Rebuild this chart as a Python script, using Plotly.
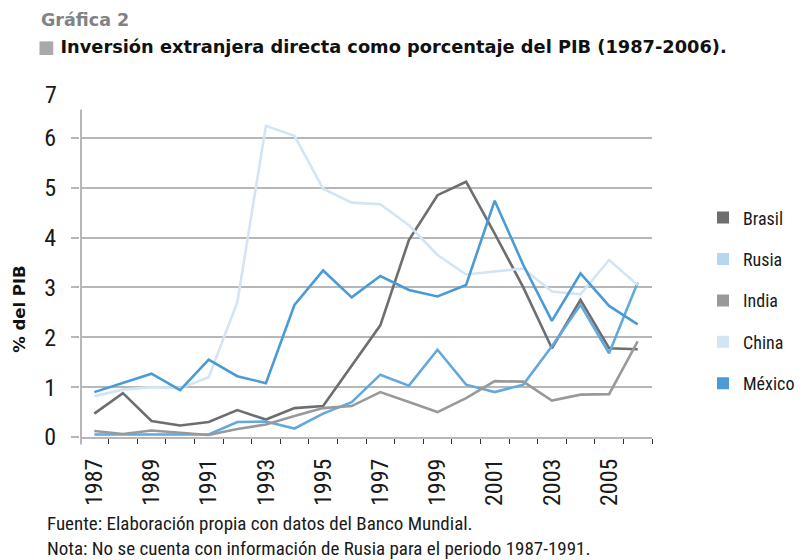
import plotly.graph_objects as go

# ---------------- data ----------------
years = list(range(1987, 2007))
brasil = [0.47, 0.88, 0.32, 0.23, 0.30, 0.54, 0.35, 0.58, 0.62, 1.42,
          2.24, 3.95, 4.85, 5.12, 4.08, 3.00, 1.78, 2.75, 1.78, 1.76]
rusia = [0.05, 0.05, 0.05, 0.05, 0.05, 0.30, 0.31, 0.17, 0.47, 0.70,
         1.25, 1.03, 1.75, 1.05, 0.90, 1.05, 1.82, 2.65, 1.68, 3.10]
india = [0.12, 0.06, 0.13, 0.08, 0.04, 0.16, 0.25, 0.42, 0.58, 0.62,
         0.90, 0.70, 0.50, 0.78, 1.12, 1.11, 0.73, 0.85, 0.86, 1.92]
china = [0.82, 0.95, 1.00, 0.98, 1.20, 2.70, 6.24, 6.04, 4.98, 4.70,
         4.67, 4.25, 3.65, 3.26, 3.32, 3.38, 2.92, 2.86, 3.55, 3.05]
mexico = [0.90, 1.08, 1.27, 0.94, 1.55, 1.22, 1.08, 2.65, 3.34, 2.80,
          3.23, 2.95, 2.82, 3.05, 4.74, 3.45, 2.33, 3.28, 2.63, 2.26]

series_names = ["Brasil", "Rusia", "India", "China", "México"]
series_values = [brasil, rusia, india, china, mexico]
line_colors = ["#6d6e70", "#62a9dd", "#98999b", "#d3e5f4", "#4a9bd5"]
legend_colors = ["#6d6e70", "#b8d7ee", "#98999b", "#d3e5f4", "#4a9bd5"]

x_tick_years = list(range(1987, 2006, 2))
y_tick_values = [0, 1, 2, 3, 4, 5, 6]

title_top = "Gráfica 2"
title_main = "Inversión extranjera directa como porcentaje del PIB (1987-2006)."
y_title = "% del PIB"
note_1 = "Fuente: Elaboración propia con datos del Banco Mundial."
note_2 = "Nota: No se cuenta con información de Rusia para el periodo 1987-1991."

# ---------------- layout geometry ----------------
# The page body has an 8px margin, so the figure is drawn 8px smaller and
# all reference pixel positions are shifted by that offset.
OFF = 8
W, H = 803 - OFF, 560 - OFF
PLOT_L, PLOT_R, PLOT_T, PLOT_B = 80, 652, 87.5, 437.5   # in window pixels
L = PLOT_L - OFF
R = W - (PLOT_R - OFF)
T = PLOT_T - OFF
B = H - (PLOT_B - OFF)
PW, PH = PLOT_R - PLOT_L, PLOT_B - PLOT_T


def px(x):
    return (x - PLOT_L) / PW


def py(y):
    return (PLOT_B - y) / PH


NARROW = "Liberation Sans Narrow, Arial Narrow, Roboto Condensed, sans-serif"
BOLD = "DejaVu Sans, Verdana, sans-serif"
GRID = "#b7b7b9"

fig = go.Figure()

for name, vals, col in zip(series_names, series_values, line_colors):
    fig.add_trace(go.Scatter(x=years, y=vals, mode="lines", name=name,
                             line=dict(color=col, width=2.6),
                             showlegend=False, hoverinfo="x+y+name"))

for name, col in zip(series_names, legend_colors):
    fig.add_trace(go.Scatter(x=[None], y=[None], mode="markers", name=name,
                             marker=dict(symbol="square", size=12, color=col),
                             legendgroup=name, showlegend=True))

fig.update_layout(
    width=W, height=H,
    margin=dict(l=L, r=R, t=T, b=B, autoexpand=False),
    paper_bgcolor="white", plot_bgcolor="white",
    font=dict(family=NARROW, color="#1a1a1a", size=19),
    legend=dict(x=px(703), y=py(300.5), xanchor="left", yanchor="middle",
                font=dict(family=NARROW, size=18, color="#1a1a1a"),
                tracegroupgap=15, itemsizing="trace", bgcolor="rgba(0,0,0,0)",
                borderwidth=0, xref="paper"),
    xaxis=dict(range=[1986.5, 2006.5], tickmode="array", tickvals=x_tick_years,
               ticktext=[str(v) for v in x_tick_years], tickangle=-90,
               ticks="", showgrid=False, zeroline=False,
               showline=True, linecolor=GRID, linewidth=2,
               tickfont=dict(family=NARROW, size=24, color="#1a1a1a"),
               ticklabelstandoff=10,
               minor=dict(tick0=1986.5, dtick=1, ticks="outside", ticklen=5,
                          tickcolor="#333333", tickwidth=1.2, showgrid=False)),
    yaxis=dict(range=[0, 7], tickmode="array", tickvals=y_tick_values,
               showgrid=True, gridcolor=GRID, gridwidth=2, zeroline=False,
               showline=False, ticks="outside", ticklen=8, tickcolor=GRID,
               tickwidth=2, ticklabelstandoff=10,
               tickfont=dict(family=NARROW, size=24, color="#1a1a1a")),
    shapes=[dict(type="line", xref="paper", yref="paper", x0=px(81), x1=px(81),
                 y0=py(445), y1=py(109), line=dict(color=GRID, width=2))],
    annotations=[
        dict(text="<b>" + title_top + "</b>", xref="paper", yref="paper",
             x=px(39), y=py(19), xanchor="left", yanchor="middle", showarrow=False,
             font=dict(family=BOLD, size=17.5, color="#808285")),
        dict(text="<span style='color:#a7a9ac'>■</span> <b>" + title_main + "</b>",
             xref="paper", yref="paper", x=px(36), y=py(46), xanchor="left",
             yanchor="middle", showarrow=False,
             font=dict(family=BOLD, size=17.8, color="#111111")),
        dict(text="<b>" + y_title + "</b>", xref="paper", yref="paper",
             x=px(20), y=py(309), xanchor="center", yanchor="middle",
             textangle=-90, showarrow=False,
             font=dict(family=BOLD, size=16.5, color="#111111")),
        dict(text="7", xref="paper", yref="y", x=px(59), y=6.86,
             xanchor="right", yanchor="middle", showarrow=False,
             font=dict(family=NARROW, size=24, color="#1a1a1a")),
        dict(text=note_1, xref="paper", yref="paper", x=px(45), y=py(524),
             xanchor="left", yanchor="middle", showarrow=False,
             font=dict(family=NARROW, size=19, color="#1a1a1a")),
        dict(text=note_2, xref="paper", yref="paper", x=px(45), y=py(549),
             xanchor="left", yanchor="middle", showarrow=False,
             font=dict(family=NARROW, size=19, color="#1a1a1a")),
    ],
)

fig.write_html("out.html")
